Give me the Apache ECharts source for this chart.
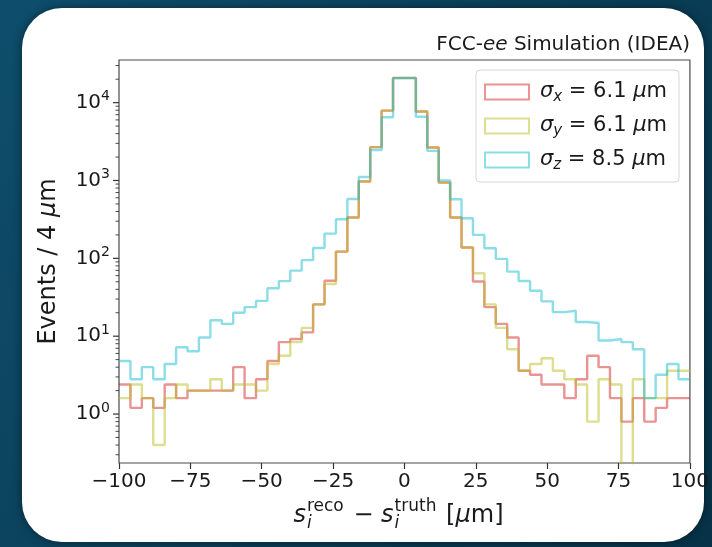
<!DOCTYPE html>
<html>
<head>
<meta charset="utf-8">
<script src="https://cdn.jsdelivr.net/npm/echarts@6/dist/echarts.min.js"></script>
<style>
html,body{margin:0;padding:0;background:#0b4560;}
#c{width:712px;height:547px;}
</style>
</head>
<body>
<div id="c"></div>
<script>
// ---- data ----
const binEdges = [-100,-96,-92,-88,-84,-80,-76,-72,-68,-64,-60,-56,-52,-48,-44,-40,-36,-32,-28,-24,-20,-16,-12,-8,-4,0,4,8,12,16,20,24,28,32,36,40,44,48,52,56,60,64,68,72,76,80,84,88,92,96,100];

const countsX = [2.4,1.2,1.6,1.2,2.4,1.6,2.0,2.0,2.0,2.0,
  4.0,1.6,2.8,4.8,8.4,9.2,11.2,25.6,51.6,122,
  334,970,2680,7900,20800,20800,7700,2650,940,334,
  138,50.4,23.6,14.4,9.6,3.6,3.2,2.4,2.4,1.6,
  2.8,5.6,4.0,1.6,0.8,1.6,0.8,1.2,1.6,1.6];

const countsY = [1.6,2.4,1.6,0.4,1.6,2.4,2.0,2.0,2.8,2.0,
  2.4,2.4,2.0,4.4,5.6,8.4,12.8,25.6,46.8,122,
  334,980,2680,7900,20800,20800,7700,2650,940,334,
  138,64.4,25.6,12.8,6.8,3.6,4.4,5.2,3.6,2.8,
  2.4,0.8,2.8,2.4,0,2.8,1.6,1.6,3.6,3.6];

const countsZ = [4.8,2.8,4.0,2.8,4.4,7.2,6.4,9.6,16,14.4,
  20,23.6,28.4,41.2,51,69.6,94.8,136,208,318,
  578,1110,2460,6500,20600,20600,6600,2400,1000,575,
  328,200,135,98.4,67.6,51.2,38.4,28,20.4,21.2,
  15.2,14.8,8.8,9.2,8.4,6.8,1.6,3.2,4.4,2.8];

const seriesNames = ['σx = 6.1 μm', 'σy = 6.1 μm', 'σz = 8.5 μm'];
const seriesSub = ['x', 'y', 'z'];
const seriesWidth = ['6.1', '6.1', '8.5'];
const seriesColors = ['rgba(214,39,40,0.5)', 'rgba(188,189,34,0.5)', 'rgba(23,190,207,0.5)'];
const xTickStep = 25;
const titleText = 'FCC-{e|ee} Simulation (IDEA)';
const yAxisName = 'Events / 4 {mu|μ}m';

// ---- build ----
const FONT = '"DejaVu Sans", "Noto Sans", sans-serif';
const TXT = '#1a1a1a';
const ZERO_FLOOR = 1e-3; // empty bin: drawn below the axis floor (clipped), like matplotlib's log clip

function stepData(counts) {
  const d = counts.map((v, i) => [binEdges[i], v > 0 ? v : ZERO_FLOOR]);
  d.push([binEdges[counts.length], d[d.length - 1][1]]);
  return d;
}
const allCounts = [countsX, countsY, countsZ];

const chart = echarts.init(document.getElementById('c'), null, {renderer: 'canvas'});

const option = {
  animation: false,
  backgroundColor: {
    type: 'linear', x: 0, y: 0, x2: 1, y2: 1,
    colorStops: [{offset: 0, color: '#0e4e6c'}, {offset: 1, color: '#073247'}]
  },
  title: {
    text: titleText, right: 22, top: 35, padding: 0,
    textStyle: {fontFamily: FONT, fontSize: 20, fontWeight: 'normal', color: TXT,
      rich: {e: {fontFamily: FONT, fontSize: 20, fontStyle: 'italic', color: TXT}}}
  },
  grid: {left: 119, right: 22, top: 60, bottom: 84, show: true, borderColor: '#4a4a4a', borderWidth: 1.2, backgroundColor: 'transparent', z: 3},
  legend: {
    orient: 'vertical', right: 33, top: 70,
    padding: [9, 12, 9, 8],
    backgroundColor: 'rgba(255,255,255,0.85)', borderColor: '#d6d6d6', borderWidth: 1, borderRadius: 4,
    itemWidth: 44, itemHeight: 15, itemGap: 8,
    icon: 'rect',
    itemStyle: {color: 'rgba(255,255,255,0)', borderWidth: 2},
    data: seriesNames.map((n, i) => ({name: n, icon: 'rect', itemStyle: {color: 'rgba(255,255,255,0)', borderColor: seriesColors[i], borderWidth: 2}})),
    formatter: function (n) {
      const i = seriesNames.indexOf(n);
      return '{sp| }{g|σ}{s|' + seriesSub[i] + '} = ' + seriesWidth[i] + ' {g|μ}m';
    },
    textStyle: {
      fontFamily: FONT, fontSize: 21, color: TXT, lineHeight: 26,
      rich: {
        sp: {width: 6, fontSize: 21, lineHeight: 26},
        g: {fontFamily: FONT, fontSize: 21, fontStyle: 'italic', color: TXT, lineHeight: 26},
        s: {fontFamily: FONT, fontSize: 15, fontStyle: 'italic', color: TXT, lineHeight: 15, verticalAlign: 'bottom'}
      }
    }
  },
  xAxis: {
    type: 'value', min: -100, max: 100, interval: xTickStep,
    axisLine: {show: false},
    axisTick: {show: true, inside: false, length: 6, lineStyle: {color: '#333', width: 1.2}},
    splitLine: {show: false},
    axisLabel: {
      margin: 9, fontFamily: FONT, fontSize: 20, color: TXT,
      formatter: v => (v < 0 ? '\u2212' + Math.abs(v) : String(v))
    }
  },
  yAxis: {
    type: 'log', logBase: 10, min: 0.235, max: 35300,
    axisLine: {show: false},
    axisTick: {show: false},
    minorTick: {show: false},
    splitLine: {show: false},
    axisLabel: {
      margin: 9, fontFamily: FONT, fontSize: 20, color: TXT,
      showMinLabel: false, showMaxLabel: false,
      formatter: function (v) {
        const k = Math.log10(v);
        const r = Math.round(k);
        if (Math.abs(k - r) > 1e-6) return '';
        return '{b|10}{p|' + r + '}';
      },
      rich: {
        b: {fontFamily: FONT, fontSize: 20, color: TXT, lineHeight: 26},
        p: {fontFamily: FONT, fontSize: 14, color: TXT, lineHeight: 14, verticalAlign: 'top'}
      }
    },
    name: yAxisName, nameLocation: 'middle', nameRotate: 90, nameGap: 58,
    nameTextStyle: {fontFamily: FONT, fontSize: 24, color: TXT,
      rich: {mu: {fontFamily: FONT, fontSize: 24, fontStyle: 'italic', color: TXT}}}
  },
  series: allCounts.map((c, i) => ({
    type: 'line', name: seriesNames[i], step: 'end',
    data: stepData(c),
    symbol: 'none', showSymbol: false, silent: true, clip: true,
    lineStyle: {color: seriesColors[i], width: 2.4},
    itemStyle: {color: seriesColors[i]},
    z: 2 + i
  }))
};
chart.setOption(option);

// ---- decorations placed through the chart's own scales ----
const graphics = [];
// white rounded panel behind everything
graphics.push({type: 'rect', z: -100, silent: true,
  shape: {x: 22, y: 8, width: 682, height: 534, r: 40},
  style: {fill: '#ffffff', shadowBlur: 10, shadowColor: 'rgba(0,0,0,0.45)'}});

// y ticks (major + minor, like matplotlib's log locator)
const axX = chart.convertToPixel({xAxisIndex: 0}, -100);
const yMin = 0.235, yMax = 35300;
for (let k = -1; k <= 4; k++) {
  for (let m = 1; m <= 9; m++) {
    const v = m * Math.pow(10, k);
    if (v < yMin || v > yMax) continue;
    const py = chart.convertToPixel({yAxisIndex: 0}, v);
    const major = (m === 1);
    graphics.push({type: 'line', z: 10, silent: true,
      shape: {x1: axX - (major ? 6 : 3.5), y1: py, x2: axX, y2: py},
      style: {stroke: '#333', lineWidth: major ? 1.2 : 0.9}});
  }
}

// x axis title: s_i^reco − s_i^truth [μm], scripts stacked as in mathtext
const cv = document.createElement('canvas').getContext('2d');
function tw(t, f) { cv.font = f; return cv.measureText(t).width; }
const mR = '24px "DejaVu Sans"', mI = 'italic 24px "DejaVu Sans"';
const sR = '17px "DejaVu Sans"', sI = 'italic 17px "DejaVu Sans"';
const parts = [];
let cx = 0;
function add(t, f) { parts.push({t, f, x: cx, dy: 0}); cx += tw(t, f); }
function stack(sup, sub) {
  parts.push({t: sup, f: sR, x: cx + 1, dy: -9});
  parts.push({t: sub, f: sI, x: cx + 1, dy: 8});
  cx += Math.max(tw(sup, sR), tw(sub, sI)) + 3;
}
add('s', mI); stack('reco', 'i'); add(' \u2212 ', mR); add('s', mI); stack('truth', 'i'); add(' [', mR); add('μ', mI); add('m]', mR);
const x0p = chart.convertToPixel({xAxisIndex: 0}, -100);
const x1p = chart.convertToPixel({xAxisIndex: 0}, 100);
const startX = (x0p + x1p) / 2 - cx / 2 - 6;
const midY = 516;
parts.forEach(p => graphics.push({type: 'text', z: 10, silent: true, x: startX + p.x, y: midY + p.dy,
  style: {text: p.t, font: p.f, fill: TXT, align: 'left', verticalAlign: 'middle'}}));

chart.setOption({graphic: graphics});
</script>
</body>
</html>
